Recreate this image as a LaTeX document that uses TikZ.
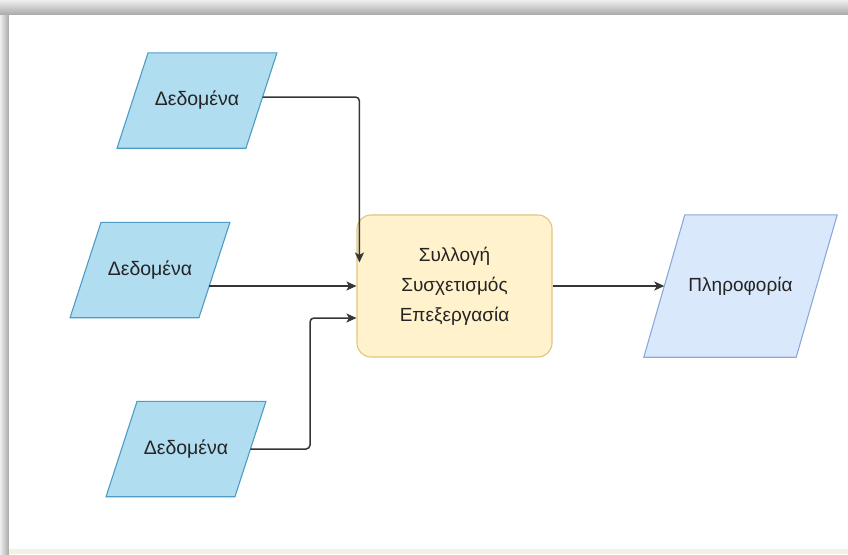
\documentclass[tikz,border=0pt]{standalone}
\usepackage{fontspec}
\setmainfont{Liberation Sans}
\usetikzlibrary{arrows.meta,calc}

\definecolor{datafill}{HTML}{B1DDF0}
\definecolor{dataline}{HTML}{4E9CC6}
\definecolor{infofill}{HTML}{DAE8FC}
\definecolor{infoline}{HTML}{8CAAD8}
\definecolor{procfill}{HTML}{FFF2CC}
\definecolor{procline}{HTML}{E2C67C}
\definecolor{wirecol}{HTML}{363636}
\definecolor{ink}{HTML}{242424}
\definecolor{edgelight}{HTML}{EEEEEE}
\definecolor{edgedark}{HTML}{A8A8A8}
\definecolor{footstrip}{HTML}{F3F1E6}

% paper below the slanted shapes, shapes below text and connectors
\pgfdeclarelayer{paper}
\pgfdeclarelayer{shapes}
\pgfsetlayers{paper,shapes,main}

\tikzset{
  % text holder of a parallelogram: its width is the mean width of the slanted shape
  datanode/.style={rectangle, inner sep=0pt, minimum width=128.5pt,
    minimum height=95pt, text=ink, font=\fontsize{19.5}{23}\selectfont},
  infonode/.style={rectangle, inner sep=0pt, minimum width=152pt,
    minimum height=142pt, text=ink, font=\fontsize{19}{23}\selectfont},
  datashape/.style={fill=datafill, draw=dataline, line width=1.1pt},
  infoshape/.style={fill=infofill, draw=infoline, line width=1.1pt},
  procbox/.style={rectangle, rounded corners=14pt, minimum width=195pt,
    minimum height=142pt, fill=procfill, draw=procline, line width=1.1pt,
    text=ink, align=center, font=\fontsize{19}{30}\selectfont},
  wire/.style={draw=wirecol, line width=1.5pt, rounded corners=4pt,
    -{Stealth[length=10pt,width=9pt,inset=2.5pt]}}
}

% slanted outline round a node: #1 node name, #2 horizontal slant, #3 style
\newcommand\slantbox[3]{%
  \begin{pgfonlayer}{shapes}
    \path[#3] ($(#1.north west)+(#2/2,0)$) -- ($(#1.north east)+(#2/2,0)$)
      -- ($(#1.south east)+(-#2/2,0)$) -- ($(#1.south west)+(-#2/2,0)$) -- cycle;
  \end{pgfonlayer}}

\begin{document}
\begin{tikzpicture}[x=1pt,y=-1pt]
  \useasboundingbox (0,0) rectangle (848,554);

  % framed panel with a soft grey edge at the top and left
  \begin{pgfonlayer}{paper}
    \shade[top color=edgelight, bottom color=edgedark] (0,0) rectangle (848,15);
    \shade[left color=edgelight, right color=edgedark] (0,15) rectangle (9,554);
    \fill[white] (9,15) rectangle (848,549);
    \fill[footstrip] (9,549) rectangle (848,554);
  \end{pgfonlayer}

  % inputs, process and output
  \node[datanode] (d1) at (197,100.5) {Δεδομένα};
  \node[datanode] (d2) at (150,270) {Δεδομένα};
  \node[datanode] (d3) at (186,449) {Δεδομένα};
  \node[procbox] (proc) at (454.5,286) {Συλλογή\\Συσχετισμός\\Επεξεργασία};
  \node[infonode] (info) at (740.5,286) {Πληροφορία};

  \slantbox{d1}{31}{datashape}
  \slantbox{d2}{31}{datashape}
  \slantbox{d3}{31}{datashape}
  \slantbox{info}{41}{infoshape}

  % connectors
  \coordinate (o1) at ($(d1.east)+(1.1,-3.5)$);
  \coordinate (in1) at ($(proc.north west)+(3,48)$);
  \draw[wire] (o1) -| (in1);

  \coordinate (o2) at ($(d2.east)+(-5.2,16)$);
  \draw[wire] (o2) -- (o2 -| proc.west);

  \coordinate (in3) at ($(proc.west)+(0,32)$);
  \coordinate (k3) at (310,0);
  \draw[wire] (d3.east) -| (k3 |- in3) -- (in3);

  \draw[wire] (proc.east) -- (info.west);
\end{tikzpicture}
\end{document}
